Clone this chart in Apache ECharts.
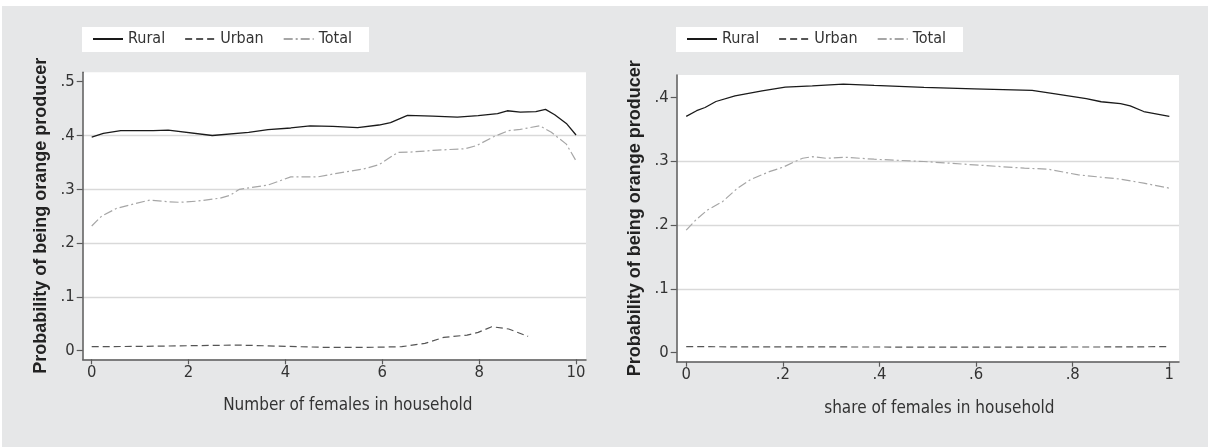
<!DOCTYPE html>
<html>
<head>
<meta charset="utf-8">
<script src="https://cdn.jsdelivr.net/npm/echarts@6/dist/echarts.min.js"></script>
<style>
html,body{margin:0;padding:0;background:#fff;}
#chart{width:1208px;height:447px;}
</style>
</head>
<body>
<div id="chart"></div>
<script>
// ---- Data ----
const seriesNames = ['Rural', 'Urban', 'Total'];

// Left panel: x = number of females in household
const ruralByCount = [[0,.397],[0.24,.404],[0.6,.409],[1.27,.409],[1.58,.410],[2.49,.400],[3.24,.406],[3.64,.411],[4.11,.414],[4.51,.418],[4.98,.417],[5.49,.4145],[5.93,.4195],[6.17,.424],[6.52,.4375],[7.04,.436],[7.55,.434],[7.98,.437],[8.38,.4405],[8.58,.446],[8.85,.4435],[9.17,.4445],[9.37,.4485],[9.56,.4387],[9.8,.4225],[10,.401]];
const urbanByCount = [[0,.0074],[1,.008],[2.06,.0093],[3.0,.0105],[4.03,.008],[4.82,.0062],[5.61,.006],[6.4,.0074],[6.88,.0136],[7.27,.0248],[7.75,.029],[7.98,.034],[8.26,.0446],[8.61,.0403],[9.01,.0266]];
const totalByCount = [[0,.2317],[0.206,.2503],[0.516,.2647],[0.86,.2727],[1.2,.280],[1.55,.277],[1.82,.2758],[2.17,.278],[2.65,.2835],[2.86,.289],[3.05,.300],[3.64,.308],[4.11,.323],[4.66,.323],[5.06,.3296],[5.61,.3377],[5.93,.3457],[6.32,.3686],[6.56,.369],[7.04,.3723],[7.71,.3755],[7.94,.381],[8.3,.3978],[8.61,.409],[8.85,.4114],[9.25,.418],[9.49,.406],[9.8,.384],[10,.353]];

// Right panel: x = share of females in household
const ruralByShare = [[0,.370],[0.0215,.379],[0.039,.384],[0.0615,.3934],[0.101,.4023],[0.157,.410],[0.205,.416],[0.261,.418],[0.325,.4207],[0.389,.4185],[0.492,.4154],[0.596,.4133],[0.716,.4107],[0.764,.4055],[0.828,.398],[0.859,.393],[0.899,.390],[0.919,.3867],[0.947,.3777],[1,.370]];
const urbanByShare = [[0,.0095],[0.1,.0092],[0.3,.009],[0.5,.0088],[0.7,.0088],[0.9,.009],[1,.0095]];
const totalByShare = [[0,.192],[0.02,.208],[0.044,.2235],[0.075,.2365],[0.106,.2575],[0.134,.2715],[0.172,.2835],[0.2,.2904],[0.224,.299],[0.241,.3045],[0.262,.307],[0.289,.3045],[0.331,.306],[0.389,.303],[0.492,.2994],[0.596,.2942],[0.70,.289],[0.748,.2875],[0.812,.2785],[0.899,.2718],[0.947,.2655],[1,.2577]];

// Tick labels
const countTicks = [0, 2, 4, 6, 8, 10];
const shareTicks = [0, 0.2, 0.4, 0.6, 0.8, 1];
const probTicksLeft = [0, 0.1, 0.2, 0.3, 0.4, 0.5];
const probTicksRight = [0, 0.1, 0.2, 0.3, 0.4];

const yTitle = 'Probability of being orange producer';
const xTitleLeft = 'Number of females in household';
const xTitleRight = 'share of females in household';

// ---- Styling ----
const NARROW = "'Liberation Sans Narrow','DejaVu Sans Condensed','Arial Narrow',sans-serif";
const BOLD = "'Liberation Sans',Arial,sans-serif";
const AXIS_COLOR = '#5a5a5a';
const TEXT_COLOR = '#333';
function dec(v) {
  if (v === 0) return '0';
  if (v === 1) return '1';
  return v.toFixed(1).replace(/^0/, '');
}
const lineStyles = {
  Rural: {color: '#1a1a1a', width: 1.3, type: 'solid'},
  Urban: {color: '#555555', width: 1.2, type: [7, 4]},
  Total: {color: '#a6a6a6', width: 1.2, type: [9, 3, 2, 3]}
};

function xAxisCfg(grid, min, max, ticks, fmt, name, shift) {
  return {
    gridIndex: grid, type: 'value', min: min, max: max,
    axisLine: {onZero: false, lineStyle: {color: AXIS_COLOR, width: 1.5}},
    axisTick: {customValues: ticks, length: 5, lineStyle: {color: AXIS_COLOR, width: 1.2}},
    axisLabel: {customValues: ticks, formatter: fmt, margin: 5, fontSize: 16.5, fontFamily: NARROW, color: TEXT_COLOR},
    splitLine: {show: false},
    name: name, nameLocation: 'middle', nameGap: 38,
    nameTextStyle: {fontSize: 17, fontFamily: NARROW, color: TEXT_COLOR, padding: [0, 0, 0, shift]}
  };
}
function yAxisCfg(grid, min, max, ticks) {
  return {
    gridIndex: grid, type: 'value', min: min, max: max, splitNumber: 5,
    axisLine: {show: true, onZero: false, lineStyle: {color: AXIS_COLOR, width: 1.5}},
    axisTick: {show: true, customValues: ticks, length: 6, lineStyle: {color: AXIS_COLOR, width: 1.2}},
    axisLabel: {customValues: ticks, formatter: dec, margin: 8, fontSize: 16.5, fontFamily: NARROW, color: TEXT_COLOR},
    splitLine: {show: true, showMinLine: false, showMaxLine: false, lineStyle: {color: '#d9d9d9', width: 1.3}},
    name: yTitle, nameLocation: 'middle', nameGap: 33,
    nameTextStyle: {fontSize: 18, fontWeight: 'bold', fontFamily: BOLD, color: '#222'}
  };
}
function legendCfg(left) {
  return {
    left: left, top: 27, orient: 'horizontal',
    data: seriesNames,
    backgroundColor: '#fff', borderWidth: 0,
    padding: [4, 17, 5, 10],
    itemWidth: 30, itemHeight: 14, itemGap: 19,
    itemStyle: {opacity: 0},
    textStyle: {fontSize: 16, fontFamily: NARROW, color: TEXT_COLOR},
    selectedMode: false
  };
}
function lineSeries(name, data, idx) {
  return {
    name: name, type: 'line', xAxisIndex: idx, yAxisIndex: idx,
    data: data, symbol: 'none', showSymbol: false, smooth: false,
    lineStyle: lineStyles[name], itemStyle: {color: lineStyles[name].color},
    z: 3, animation: false
  };
}

const chart = echarts.init(document.getElementById('chart'), null, {renderer: 'canvas'});
chart.setOption({
  animation: false,
  backgroundColor: '#fff',
  graphic: [{type: 'rect', left: 2, top: 6, z: -10, silent: true,
    shape: {width: 1206, height: 441}, style: {fill: '#e6e7e8'}}],
  legend: [legendCfg(82), legendCfg(676)],
  grid: [
    {left: 82.7, top: 72.3, width: 503.3, height: 287, show: true, backgroundColor: '#fff', borderWidth: 0},
    {left: 676.7, top: 75, width: 502.3, height: 286.7, show: true, backgroundColor: '#fff', borderWidth: 0}
  ],
  xAxis: [
    xAxisCfg(0, -0.186, 10.206, countTicks, v => String(v), xTitleLeft, 27),
    xAxisCfg(1, -0.0197, 1.020, shareTicks, dec, xTitleRight, 23)
  ],
  yAxis: [
    yAxisCfg(0, -0.016, 0.5175, probTicksLeft),
    yAxisCfg(1, -0.0141, 0.4349, probTicksRight)
  ],
  series: [
    lineSeries('Rural', ruralByCount, 0),
    lineSeries('Urban', urbanByCount, 0),
    lineSeries('Total', totalByCount, 0),
    lineSeries('Rural', ruralByShare, 1),
    lineSeries('Urban', urbanByShare, 1),
    lineSeries('Total', totalByShare, 1)
  ]
});
</script>
</body>
</html>
